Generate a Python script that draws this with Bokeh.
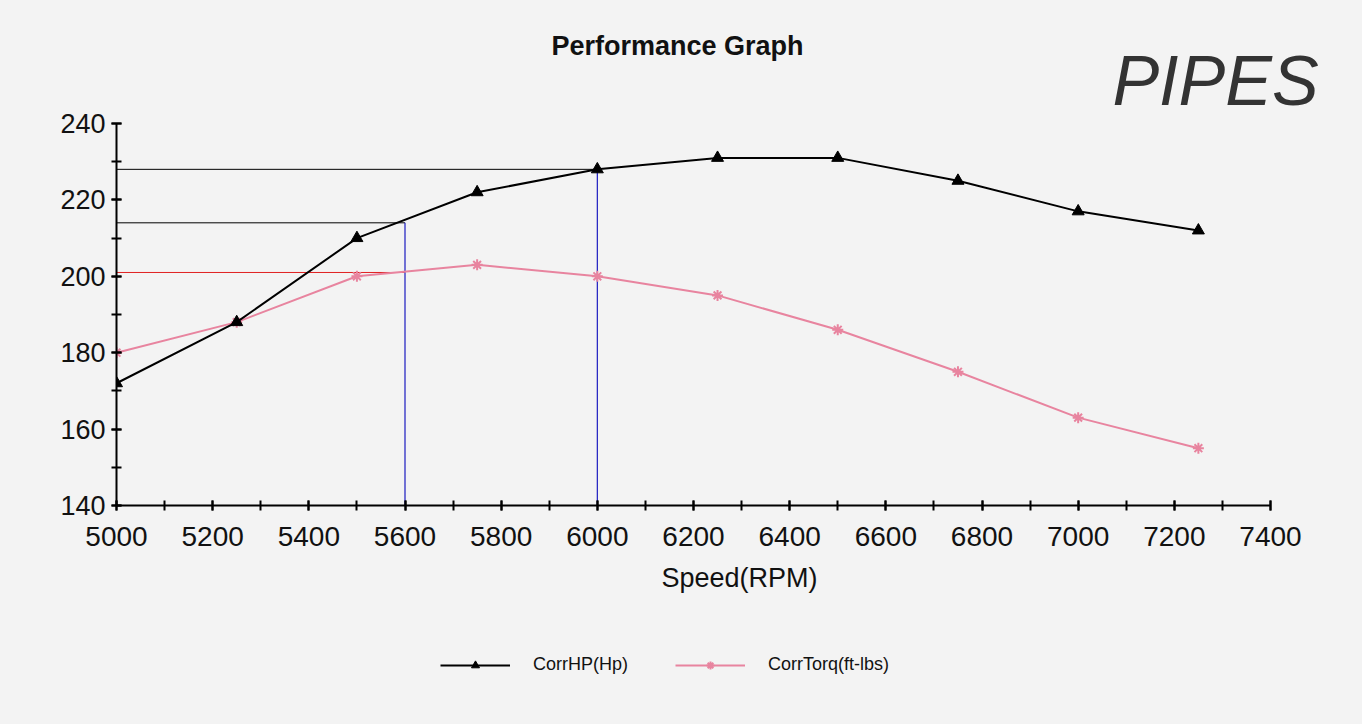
from bokeh.plotting import figure
from bokeh.layouts import column
from bokeh.models import (Range1d, SingleIntervalTicker, Label, Legend, LegendItem,
                          ColumnDataSource)
from bokeh.embed import file_html
from bokeh.resources import INLINE

# ---- data ----
rpm = [5000, 5250, 5500, 5750, 6000, 6250, 6500, 6750, 7000, 7250]
corr_hp = [172, 188, 210, 222, 228, 231, 231, 225, 217, 212]
corr_torq = [180, 188, 200, 203, 200, 195, 186, 175, 163, 155]

ref_rpm = [5600, 6000]          # vertical reference lines
ref_hp = [214, 228]             # HP at those speeds
ref_torq_5600 = 201             # torque at 5600

x_axis_span = (5000, 7400)
y_axis_span = (140, 240)

title_text = "Performance Graph"
x_label = "Speed(RPM)"
hp_name = "CorrHP(Hp)"
torq_name = "CorrTorq(ft-lbs)"
note_text = "PIPES"

BG = "#f3f3f3"
FONT = "Liberation Sans"
PINK = "#e8849f"
BLUE = "#1a1ac0"

W = 1362
H_MAIN, H_LEG = 620, 104
LEFT = 116                        # frame left (px)
AX_BOTTOM = 505                   # y pixel of the x axis
AX_W, AX_H = 1154, 382            # pixel length of the drawn axes

frame_w = W - LEFT
frame_h = AX_BOTTOM
x_end = x_axis_span[0] + (x_axis_span[1] - x_axis_span[0]) * frame_w / AX_W
y_end = y_axis_span[0] + (y_axis_span[1] - y_axis_span[0]) * frame_h / AX_H

p = figure(width=W, height=H_MAIN, output_backend="svg", toolbar_location=None,
           x_range=Range1d(x_axis_span[0], x_end),
           y_range=Range1d(y_axis_span[0], y_end),
           min_border_left=LEFT, min_border_right=0, min_border_top=0,
           min_border_bottom=H_MAIN - AX_BOTTOM)
p.background_fill_color = BG
p.border_fill_color = BG
p.outline_line_color = None
p.grid.visible = False

# axes
p.xaxis.ticker = SingleIntervalTicker(interval=200, num_minor_ticks=2)
p.yaxis.ticker = SingleIntervalTicker(interval=20, num_minor_ticks=2)
p.xaxis.bounds = x_axis_span
p.yaxis.bounds = y_axis_span
for ax in (p.xaxis[0], p.yaxis[0]):
    ax.axis_line_width = 2
    ax.axis_line_color = "black"
    ax.major_tick_in = 5
    ax.major_tick_out = 5
    ax.minor_tick_in = 5
    ax.minor_tick_out = 5
    ax.major_tick_line_width = 2
    ax.minor_tick_line_width = 2
    ax.major_tick_line_color = "black"
    ax.minor_tick_line_color = "black"
    ax.major_label_text_font = FONT
    ax.major_label_text_color = "#111111"
p.xaxis.major_label_standoff = 16
p.yaxis.major_label_standoff = 6
p.xaxis.major_label_text_font_size = "28px"
p.yaxis.major_label_text_font_size = "27px"
p.xaxis.axis_label = x_label
p.xaxis.axis_label_text_font = FONT
p.xaxis.axis_label_text_font_size = "27px"
p.xaxis.axis_label_text_font_style = "normal"
p.xaxis.axis_label_text_color = "#111111"
p.xaxis.axis_label_standoff = 14

# reference lines
p.segment(x0=[rpm[0], rpm[0]], y0=ref_hp, x1=ref_rpm, y1=ref_hp,
          line_color="black", line_width=1)
p.segment(x0=[rpm[0]], y0=[ref_torq_5600], x1=[ref_rpm[0]], y1=[ref_torq_5600],
          line_color="#e02020", line_width=1)
p.segment(x0=ref_rpm, y0=[y_axis_span[0]] * 2, x1=ref_rpm, y1=ref_hp,
          line_color=BLUE, line_width=1.2)

src = ColumnDataSource(dict(rpm=rpm, hp=corr_hp, tq=corr_torq))
p.line("rpm", "tq", source=src, line_color=PINK, line_width=2)
p.scatter("rpm", "tq", source=src, marker="asterisk", size=11,
          line_color=PINK, line_width=2)
p.line("rpm", "hp", source=src, line_color="black", line_width=2)
p.scatter("rpm", "hp", source=src, marker="triangle", size=12,
          fill_color="black", line_color="black")

p.add_layout(Label(x=561, y=frame_h - 45, x_units="screen", y_units="screen",
                   text=title_text, text_font=FONT, text_font_size="27px",
                   text_font_style="bold", text_align="center",
                   text_baseline="middle", text_color="#111111"))
p.add_layout(Label(x=1099, y=frame_h - 80, x_units="screen", y_units="screen",
                   text=note_text, text_font=FONT, text_font_size="70px",
                   text_font_style="italic", text_align="center",
                   text_baseline="middle", text_color="#333333"))

# ---- legend strip below the chart (its renderers sit outside its view) ----
q = figure(width=W, height=H_LEG, output_backend="svg", toolbar_location=None,
           x_range=Range1d(0, 1), y_range=Range1d(0, 1),
           min_border=0, x_axis_location=None, y_axis_location=None)
q.background_fill_color = BG
q.border_fill_color = BG
q.outline_line_color = None
q.grid.visible = False
hidden = ColumnDataSource(dict(x=[-10], y=[-10]))
l_hp = q.line("x", "y", source=hidden, line_color="black", line_width=2)
m_hp = q.scatter("x", "y", source=hidden, marker="triangle", size=13,
                 fill_color="black", line_color="black")
l_tq = q.line("x", "y", source=hidden, line_color=PINK, line_width=2)
m_tq = q.scatter("x", "y", source=hidden, marker="asterisk", size=13,
                 line_color=PINK, line_width=2)
legend = Legend(items=[LegendItem(label=hp_name, renderers=[l_hp, m_hp]),
                       LegendItem(label=torq_name, renderers=[l_tq, m_tq])],
                location=(324, 49), orientation="horizontal",
                glyph_width=70, glyph_height=20, label_standoff=23, spacing=47,
                padding=0, margin=0, border_line_color=None,
                background_fill_alpha=0, label_text_font=FONT,
                label_text_font_size="18px", label_text_color="#111111")
q.add_layout(legend, "center")

layout = column(p, q, spacing=0, styles={"background-color": BG})
open("out.html", "w").write(file_html(layout, INLINE))
